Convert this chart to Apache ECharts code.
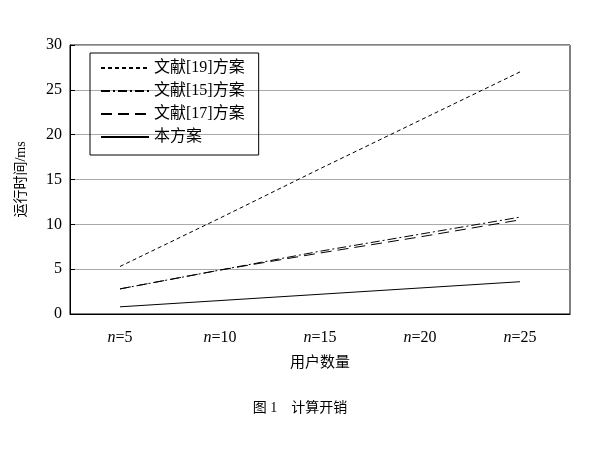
<!DOCTYPE html>
<html><head><meta charset="utf-8">
<script src="https://cdn.jsdelivr.net/npm/echarts@6/dist/echarts.min.js"></script>
<style>html,body{margin:0;padding:0;background:#fff}#c{width:600px;height:450px}</style>
</head><body><div id="c"></div>
<script>
const categories = ['5','10','15','20','25'];
const ref19 = [5.3, 10.7, 16.2, 21.6, 27.0];
const ref15 = [2.8, 4.9, 7.0, 8.9, 10.8];
const ref17 = [2.8, 4.9, 6.8, 8.6, 10.5];
const ours = [0.8, 1.5, 2.2, 2.9, 3.6];
const names = ['文献[19]方案','文献[15]方案','文献[17]方案','本方案'];
const serif = 'Liberation Serif, Noto Sans CJK SC';
function ser(name, data, dash){
  return {name, type:'line', data, symbol:'none', silent:true,
    lineStyle:{color:'#000', width:1, type:dash}, itemStyle:{color:'#000'}};
}
const chart = echarts.init(document.getElementById('c'));
chart.setOption({
  animation:false,
  title:{text:'图 1　计算开销', left:'center', top:396, textStyle:{fontSize:14, fontWeight:'normal', color:'#000', fontFamily:serif}},
  grid:{left:70, right:30, top:45, bottom:136, show:true, borderColor:'#000', borderWidth:1},
  legend:{orient:'vertical', left:90, top:53, padding:[7,14,10,10], itemGap:7, itemWidth:48, itemHeight:12,
    borderColor:'#000', borderWidth:1, data:names, itemStyle:{opacity:0},
    textStyle:{fontSize:16, color:'#000', fontFamily:serif}},
  xAxis:{type:'category', data:categories, boundaryGap:true,
    axisTick:{show:false}, axisLine:{lineStyle:{color:'#000'}},
    axisLabel:{color:'#000', fontSize:16, fontFamily:serif, margin:16,
      formatter:v=>'{i|n}='+v, rich:{i:{fontStyle:'italic', fontSize:16, fontFamily:serif}}},
    name:'用户数量', nameLocation:'middle', nameGap:42,
    nameTextStyle:{color:'#000', fontSize:15, fontFamily:serif}},
  yAxis:{type:'value', min:0, max:30, interval:5,
    axisLine:{show:true, lineStyle:{color:'#000'}}, axisTick:{show:true, inside:true, lineStyle:{color:'#000'}},
    splitLine:{lineStyle:{color:'#aaa'}},
    axisLabel:{color:'#000', fontSize:16, fontFamily:serif},
    name:'运行时间/ms', nameLocation:'middle', nameGap:42,
    nameTextStyle:{color:'#000', fontSize:14, fontFamily:serif}},
  series:[ser(names[0],ref19,[4,3]), ser(names[1],ref15,[9,3,2,3]), ser(names[2],ref17,[11,6]), ser(names[3],ours,'solid')]
});
</script></body></html>
